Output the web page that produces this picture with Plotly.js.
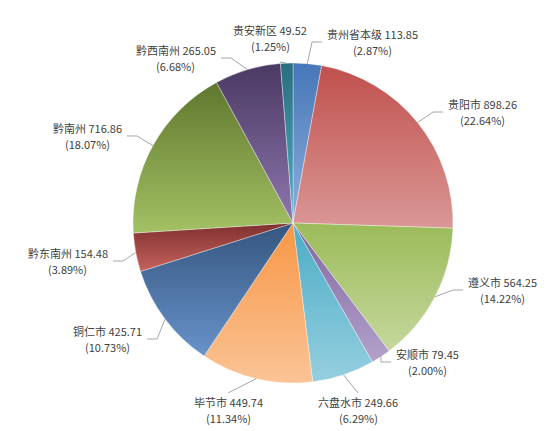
<!DOCTYPE html>
<html>
<head>
<meta charset="utf-8">
<script src="https://cdn.plot.ly/plotly-3.0.1.min.js"></script>
<style>
  html, body { margin: 0; padding: 0; background: #fff; }
  #chart { width: 554px; height: 431px; }
</style>
</head>
<body>
<div id="chart"></div>
<script>
// data
const regions = ['贵州省本级', '贵阳市', '遵义市', '安顺市', '六盘水市', '毕节市',
                 '铜仁市', '黔东南州', '黔南州', '黔西南州', '贵安新区'];
const amounts = [113.85, 898.26, 564.25, 79.45, 249.66, 449.74,
                 425.71, 154.48, 716.86, 265.05, 49.52];

// slice gradients, top colour -> bottom colour (excel style)
const topColors = ['#4677B8', '#C0504D', '#9BBB59', '#8064A2', '#4BACC6', '#F79646',
                   '#34557E', '#7E302E', '#5F772E', '#4A3962', '#2A6D7E'];
const botColors = ['#8EAEDA', '#DA9896', '#C5D89D', '#B3A2CA', '#95CFDF', '#FBC496',
                   '#6993CB', '#C6625E', '#A4C164', '#8E76AE', '#4EAFC9'];

// label placement, px from pie centre, and which side the text hangs from
const labelDx = [34, 155, 175, 103, 65, -65, -151, -185, -171, -77, -23];
const labelDy = [-181, -111, 67, 139, 187, 187, 116, 38, -87, -165, -185];
const labelSide = ['left', 'left', 'left', 'left', 'center', 'center',
                   'right', 'right', 'right', 'right', 'top'];

const W = 554, H = 431;
const CX = 293, CY = 223, R = 160;
const FONT = 'Noto Sans CJK SC';
const FS = 11;

const total = amounts.reduce((a, b) => a + b, 0);
const px = x => x / W;
const py = y => 1 - y / H;

// text width, to centre the second line under the first
const ctx = document.createElement('canvas').getContext('2d');
ctx.font = FS + 'px "' + FONT + '"';
const textW = s => ctx.measureText(s).width;

let annotations = [];
let shapes = [];
let cum = 0;
for (let i = 0; i < regions.length; i++) {
  const frac = amounts[i] / total;
  const mid = (cum + frac / 2) * 2 * Math.PI; // clockwise from 12 o'clock
  cum += frac;

  const ex = CX + R * Math.sin(mid), ey = CY - R * Math.cos(mid);
  const tx = CX + labelDx[i], ty = CY + labelDy[i];
  const side = labelSide[i];

  const line1 = regions[i] + ' ' + amounts[i].toFixed(2);
  const line2 = '(' + (frac * 100).toFixed(2) + '%)';
  const w = textW(line1);

  let cx = tx;
  let pts;
  if (side == 'left') {
    cx = tx + w / 2;
    pts = [[ex, ey], [tx - 15, ty], [tx - 5, ty]];
  } else if (side == 'right') {
    cx = tx - w / 2;
    pts = [[ex, ey], [tx + 15, ty], [tx + 5, ty]];
  } else if (side == 'center') {
    pts = [[ex, ey], [tx, ty - 17]];
  } else {
    pts = [[ex, ey], [tx + 10, ty + 24]];
  }

  shapes.push({
    type: 'path', xref: 'paper', yref: 'paper',
    path: pts.map((p, k) => (k ? 'L' : 'M') + px(p[0]).toFixed(4) + ',' + py(p[1]).toFixed(4)).join(' '),
    line: { color: '#A6A6A6', width: 1 }
  });

  [[line1, ty - 8], [line2, ty + 8]].forEach(l => {
    annotations.push({
      xref: 'paper', yref: 'paper', x: px(cx), y: py(l[1]),
      xanchor: 'center', yanchor: 'middle', showarrow: false,
      borderpad: 0, text: l[0],
      font: { family: FONT + ', sans-serif', size: FS, color: '#404040' }
    });
  });
}

const trace = {
  type: 'pie',
  labels: regions,
  values: amounts,
  sort: false,
  direction: 'clockwise',
  rotation: 0,
  textinfo: 'none',
  hoverinfo: 'label+value+percent',
  marker: { colors: topColors, line: { color: 'rgba(255,255,255,0.6)', width: 0.6 } },
  domain: { x: [px(CX - R), px(CX + R)], y: [py(CY + R), py(CY - R)] }
};

const layout = {
  width: W, height: H, autosize: false,
  margin: { l: 0, r: 0, t: 0, b: 0 },
  showlegend: false,
  paper_bgcolor: '#fff',
  annotations: annotations,
  shapes: shapes
};

Plotly.newPlot('chart', [trace], layout, { displayModeBar: false, staticPlot: true }).then(gd => {
  // swap flat fills for per-slice vertical gradients
  const NS = 'http://www.w3.org/2000/svg';
  const svg = gd.querySelector('svg.main-svg');
  let defs = svg.querySelector('defs');
  if (!defs) { defs = document.createElementNS(NS, 'defs'); svg.insertBefore(defs, svg.firstChild); }
  for (let i = 0; i < regions.length; i++) {
    const g = document.createElementNS(NS, 'linearGradient');
    g.setAttribute('id', 'slicegrad' + i);
    g.setAttribute('x1', '0'); g.setAttribute('y1', '0');
    g.setAttribute('x2', '0'); g.setAttribute('y2', '1');
    [[0, topColors[i]], [1, botColors[i]]].forEach(s => {
      const st = document.createElementNS(NS, 'stop');
      st.setAttribute('offset', s[0]);
      st.setAttribute('stop-color', s[1]);
      g.appendChild(st);
    });
    defs.appendChild(g);
  }
  gd.querySelectorAll('g.slice path.surface').forEach((p, i) => {
    p.style.fill = 'url(#slicegrad' + i + ')';
  });
});
</script>
</body>
</html>
